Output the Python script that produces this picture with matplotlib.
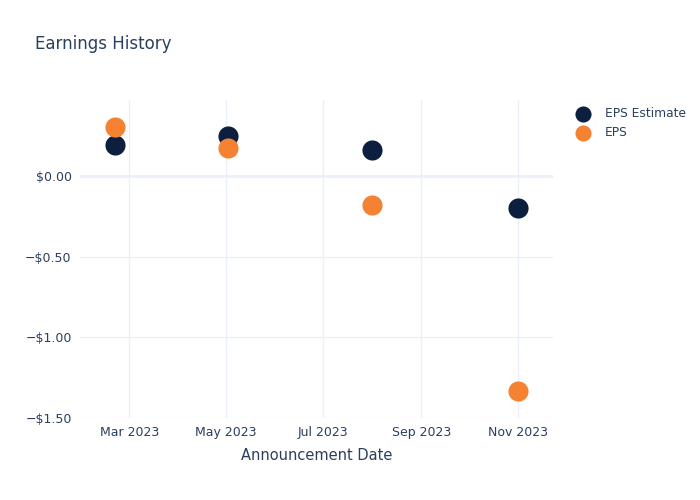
import matplotlib.pyplot as plt
import matplotlib.dates as mdates
import pandas as pd

dates = pd.to_datetime(['2023-02-20', '2023-05-02', '2023-08-01', '2023-11-01'])
eps_estimate = [0.19, 0.25, 0.16, -0.20]
eps_actual = [0.30, 0.17, -0.18, -1.33]
tick_dates = pd.to_datetime(['2023-03-01', '2023-05-01', '2023-07-01', '2023-09-01', '2023-11-01'])
tick_labels = ['Mar 2023', 'May 2023', 'Jul 2023', 'Sep 2023', 'Nov 2023']
y_ticks = [0.0, -0.5, -1.0, -1.5]

txt = '#2a3f5f'
grid = '#ebf0f8'

fig = plt.figure(figsize=(7, 5), dpi=100)
ax = fig.add_axes([0.1143, 0.164, 0.676, 0.636])

for d in tick_dates:
    ax.axvline(d, color=grid, lw=1, zorder=0)
for v in y_ticks:
    ax.axhline(v, color=grid, lw=2 if v == 0 else 1, zorder=0)

ax.scatter(dates, eps_estimate, s=210, color='#0c1f3f', label='EPS Estimate', zorder=3, linewidths=0)
ax.scatter(dates, eps_actual, s=210, color='#f58233', label='EPS', zorder=4, linewidths=0)

ax.set_xlim(pd.Timestamp('2023-01-29'), pd.Timestamp('2023-11-23'))
ax.set_ylim(-1.5, 0.47)
ax.set_xticks(tick_dates)
ax.set_xticklabels(tick_labels)
ax.set_yticks(y_ticks)
ax.set_yticklabels(['$0.00' if v == 0 else '\u2212$%.2f' % abs(v) for v in y_ticks])
ax.tick_params(length=0, labelsize=9, colors=txt, pad=6)
for s in ax.spines.values():
    s.set_visible(False)

ax.set_xlabel('Announcement Date', fontsize=10.5, color=txt, labelpad=6)
fig.text(0.05, 0.912, 'Earnings History', fontsize=12, color=txt, va='center')

leg = ax.legend(loc='upper left', bbox_to_anchor=(1.02, 1.005), frameon=False,
                fontsize=8.8, labelcolor=txt, handletextpad=0.75, labelspacing=0.5,
                borderaxespad=0.3, markerscale=0.8)

fig.savefig('out.png', dpi=100)
